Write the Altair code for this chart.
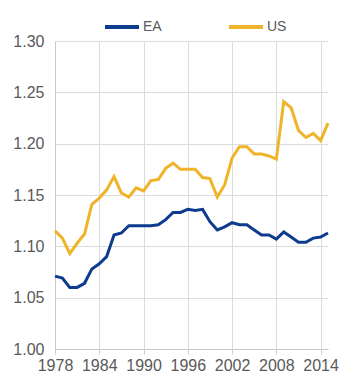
import altair as alt
import pandas as pd

years = list(range(1978, 2016))
ea = [1.071, 1.069, 1.060, 1.060, 1.064, 1.078, 1.083, 1.090, 1.111, 1.113,
      1.120, 1.120, 1.120, 1.120, 1.121, 1.126, 1.133, 1.133, 1.136, 1.135,
      1.136, 1.124, 1.116, 1.119, 1.123, 1.121, 1.121, 1.116, 1.111, 1.111,
      1.107, 1.114, 1.109, 1.104, 1.104, 1.108, 1.109, 1.113]
us = [1.115, 1.108, 1.093, 1.103, 1.112, 1.141, 1.147, 1.155, 1.168, 1.152,
      1.148, 1.157, 1.154, 1.164, 1.165, 1.176, 1.181, 1.175, 1.175, 1.175,
      1.167, 1.166, 1.148, 1.160, 1.186, 1.197, 1.197, 1.190, 1.190, 1.188,
      1.185, 1.241, 1.235, 1.213, 1.206, 1.210, 1.203, 1.220]
series = ["EA", "US"]
colors = ["#0d3b8e", "#f0b42a"]
x_ticks = [1978, 1984, 1990, 1996, 2002, 2008, 2014]
y_ticks = [1.00, 1.05, 1.10, 1.15, 1.20, 1.25, 1.30]

df = pd.DataFrame({
    "year": years * 2,
    "value": ea + us,
    "series": ["EA"] * len(years) + ["US"] * len(years),
})

font = "Liberation Sans"
txt = "#595959"

chart = alt.Chart(df).mark_line(strokeWidth=3).encode(
    x=alt.X("year:Q",
            scale=alt.Scale(domain=[1978, 2015], nice=False, zero=False),
            axis=alt.Axis(values=x_ticks, format="d", title=None,
                          labelFont=font, labelFontSize=16, labelColor=txt,
                          labelPadding=3, tickSize=5, tickColor="#d0d0d0",
                          domainColor="#c8c8c8", gridColor="#dcdcdc",
                          labelFlush=False)),
    y=alt.Y("value:Q",
            scale=alt.Scale(domain=[1.0, 1.3], nice=False, zero=False),
            axis=alt.Axis(values=y_ticks, format=".2f", title=None,
                          labelFont=font, labelFontSize=16, labelColor=txt,
                          labelPadding=11, ticks=False,
                          domainColor="#c8c8c8", gridColor="#dcdcdc")),
    color=alt.Color("series:N",
                    scale=alt.Scale(domain=series, range=colors),
                    legend=alt.Legend(title=None, orient="none",
                                      legendX=48, legendY=-33,
                                      direction="horizontal",
                                      symbolType="stroke", symbolSize=1156,
                                      symbolStrokeWidth=4,
                                      labelFont=font, labelFontSize=14,
                                      labelColor=txt, labelOffset=2,
                                      columnPadding=59)),
).properties(
    width=273, height=308,
    autosize=alt.AutoSizeParams(type="none"),
    padding={"left": 47, "top": 33, "right": 20, "bottom": 30},
).configure_view(stroke=None)

chart.save("out.html", embed_options={"renderer": "svg", "actions": False})
